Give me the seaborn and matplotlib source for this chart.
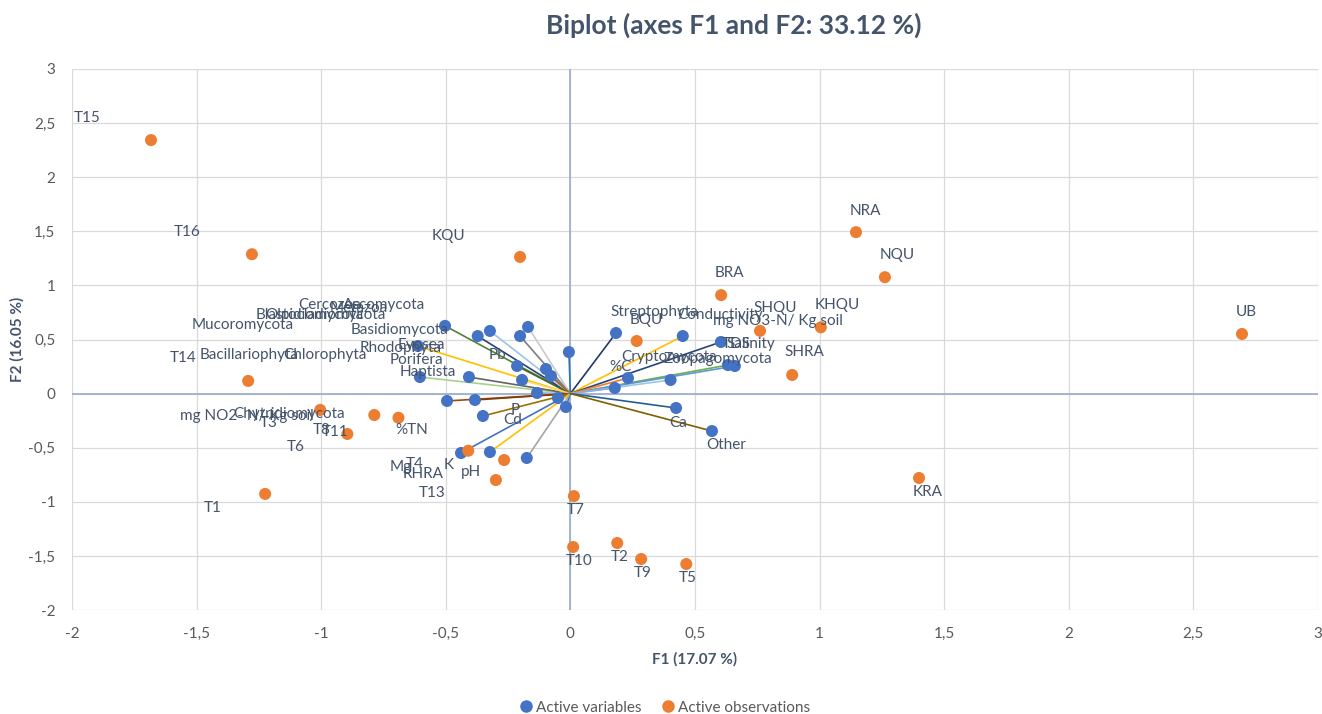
import numpy as np
import pandas as pd
import matplotlib
matplotlib.use("Agg")
import matplotlib.pyplot as plt
from matplotlib.ticker import FuncFormatter, MultipleLocator
import seaborn as sns

# === Active variables (F1, F2 loadings) ===
var_f1 = [-0.503, -0.372, -0.323, -0.202, -0.170, -0.006, -0.612, -0.604,
          -0.214, -0.098, -0.078, -0.407, -0.194, -0.134, -0.495, -0.383,
          -0.050, -0.018, -0.351, -0.439, -0.323, -0.175, 0.183, 0.451,
          0.604, 0.632, 0.660, 0.231, 0.402, 0.178, 0.424, 0.568]
var_f2 = [0.626, 0.532, 0.579, 0.532, 0.616, 0.384, 0.440, 0.153,
          0.255, 0.227, 0.163, 0.153, 0.126, 0.006, -0.068, -0.059,
          -0.041, -0.124, -0.207, -0.549, -0.540, -0.595, 0.560, 0.532,
          0.477, 0.264, 0.255, 0.144, 0.126, 0.052, -0.133, -0.346]
var_colors = ["#548235", "#264478", "#9DC3E6", "#7F7F7F", "#C9C9C9", "#2E75B6", "#FFC000", "#A9D18E",
              "#43682B", "#5B9BD5", "#C55A11", "#636363", "#FFD966", "#8FAADC", "#9E480E", "#843C0C",
              "#A5A5A5", "#4472C4", "#997300", "#4472C4", "#FFC000", "#A5A5A5", "#203864", "#FFC000",
              "#264478", "#70AD47", "#5B9BD5", "#ED7D31", "#9DC3E6", "#8FAADC", "#255E91", "#7F6000"]

# variable labels as placed in the original chart
var_label_text = ["Cercozoa", "Ascomycota", "Metazoa", "Blastocladiomycota", "Olpidiomycota",
                  "Mucoromycota", "Basidiomycota", "Evosea", "Rhodophyta", "Porifera", "Haptista",
                  "Bacillariophyta", "Chlorophyta", "Pb", "Chytridiomycota", "mg NO2- N/ Kg soil",
                  "P", "Cd", "%TN", "Mg", "K", "pH", "Streptophyta", "Conductivity",
                  "mg NO3-N/ Kg soil", "TDS", "Salinity", "Cryptomycota", "Zoopagomycota", "%C",
                  "Ca", "Other"]
var_label_x = [-1.093, -0.913, -0.965, -1.265, -1.225, -1.518, -0.881, -0.692, -0.845, -0.724, -0.684,
               -1.486, -1.153, -0.327, -1.354, -1.567, -0.238, -0.270, -0.704, -0.724, -0.507, -0.439,
               0.159, 0.428, 0.572, 0.608, 0.628, 0.203, 0.372, 0.155, 0.396, 0.544]
var_label_y = [0.819, 0.819, 0.791, 0.726, 0.726, 0.634, 0.588, 0.449, 0.421, 0.311, 0.200,
               0.357, 0.357, 0.357, -0.189, -0.207, -0.152, -0.244, -0.336, -0.678, -0.660, -0.725,
               0.754, 0.726, 0.671, 0.458, 0.458, 0.338, 0.320, 0.246, -0.272, -0.475]

# === Active observations ===
obs_names = ["T15", "T16", "KQU", "NRA", "NQU", "BRA", "UB", "KHQU", "SHQU", "BQU", "SHRA", "KRA",
             "T7", "T10", "T2", "T9", "T5", "T14", "T3", "T8", "T11", "T6", "T1", "T4", "RHRA", "T13"]
obs_f1 = [-1.683, -1.278, -0.202, 1.146, 1.262, 0.605, 2.695, 1.005, 0.761, 0.266, 0.890, 1.399,
          0.014, 0.011, 0.188, 0.284, 0.465, -1.293, -1.004, -0.787, -0.895, -0.690, -1.225, -0.410,
          -0.266, -0.299]
obs_f2 = [2.343, 1.288, 1.263, 1.492, 1.076, 0.910, 0.551, 0.613, 0.580, 0.486, 0.172, -0.780,
          -0.947, -1.418, -1.381, -1.529, -1.575, 0.117, -0.151, -0.198, -0.373, -0.223, -0.927, -0.528,
          -0.614, -0.799]
obs_label_x = [-1.991, -1.590, -0.555, 1.122, 1.242, 0.580, 2.671, 0.981, 0.736, 0.239, 0.861, 1.374,
               -0.014, -0.018, 0.163, 0.255, 0.436, -1.607, -1.246, -1.033, -0.997, -1.138, -1.471,
               -0.660, -0.672, -0.608]
obs_label_y = [2.547, 1.494, 1.457, 1.690, 1.281, 1.115, 0.754, 0.819, 0.791, 0.680, 0.384, -0.909,
               -1.076, -1.547, -1.510, -1.658, -1.704, 0.329, -0.272, -0.336, -0.355, -0.494, -1.058,
               -0.651, -0.743, -0.919]

# === Build table for seaborn ===
df = pd.concat([
    pd.DataFrame({"F1": var_f1, "F2": var_f2, "kind": "Active variables"}),
    pd.DataFrame({"F1": obs_f1, "F2": obs_f2, "kind": "Active observations"}),
], ignore_index=True)

sns.set_theme(style="white")
plt.rcParams["font.family"] = ["Lato", "DejaVu Sans"]

text_col = "#44546A"
tick_col = "#595959"

fig = plt.figure(figsize=(13.22, 7.14), dpi=100)
ax = fig.add_axes([72 / 1322, 104 / 714, 1246 / 1322, 541 / 714])

# grid and zero axes
ax.xaxis.set_major_locator(MultipleLocator(0.5))
ax.yaxis.set_major_locator(MultipleLocator(0.5))
ax.grid(True, color="#D9D9D9", linewidth=0.9, zorder=0)
ax.axhline(0, color="#9FB0CE", linewidth=1.3, zorder=1)
ax.axvline(0, color="#9FB0CE", linewidth=1.3, zorder=1)

# loading vectors
for x, y, c in zip(var_f1, var_f2, var_colors):
    ax.plot([0, x], [0, y], color=c, linewidth=1.2, zorder=2)

sns.scatterplot(data=df, x="F1", y="F2", hue="kind",
                palette={"Active variables": "#4472C4", "Active observations": "#ED7D31"},
                s=75, edgecolor="none", ax=ax, zorder=3, legend=False)

# labels
for t, x, y in zip(var_label_text, var_label_x, var_label_y):
    ax.text(x, y, t, fontsize=11, color=text_col, ha="left", va="center", zorder=4)
for t, x, y in zip(obs_names, obs_label_x, obs_label_y):
    ax.text(x, y, t, fontsize=11, color=text_col, ha="left", va="center", zorder=4)

ax.set_xlim(-2, 3)
ax.set_ylim(-2, 3)
for s in ax.spines.values():
    s.set_visible(False)

fmt = FuncFormatter(lambda v, p: ("%g" % v).replace(".", ","))
ax.xaxis.set_major_formatter(fmt)
ax.yaxis.set_major_formatter(fmt)
ax.tick_params(axis="both", labelsize=11, colors=tick_col, length=0)
ax.tick_params(axis="x", pad=12)
ax.tick_params(axis="y", pad=12)

ax.set_xlabel("F1 (17.07 %)", fontsize=11, fontweight="bold", color=text_col, labelpad=8)
ax.set_ylabel("F2 (16.05 %)", fontsize=11, fontweight="bold", color=text_col, labelpad=3)

fig.suptitle("Biplot (axes F1 and F2: 33.12 %)", x=0.555, y=0.982, fontsize=19,
             fontweight="bold", color=text_col)

# legend
handles = [plt.Line2D([], [], marker="o", linestyle="none", markersize=8, color="#4472C4"),
           plt.Line2D([], [], marker="o", linestyle="none", markersize=8, color="#ED7D31")]
fig.legend(handles, ["Active variables", "Active observations"], loc="lower center",
           bbox_to_anchor=(0.503, -0.02), ncol=2, frameon=False, fontsize=11,
           labelcolor=tick_col, handlelength=0.8, handletextpad=0.25, columnspacing=1.3)

fig.savefig("out.png", dpi=100)
